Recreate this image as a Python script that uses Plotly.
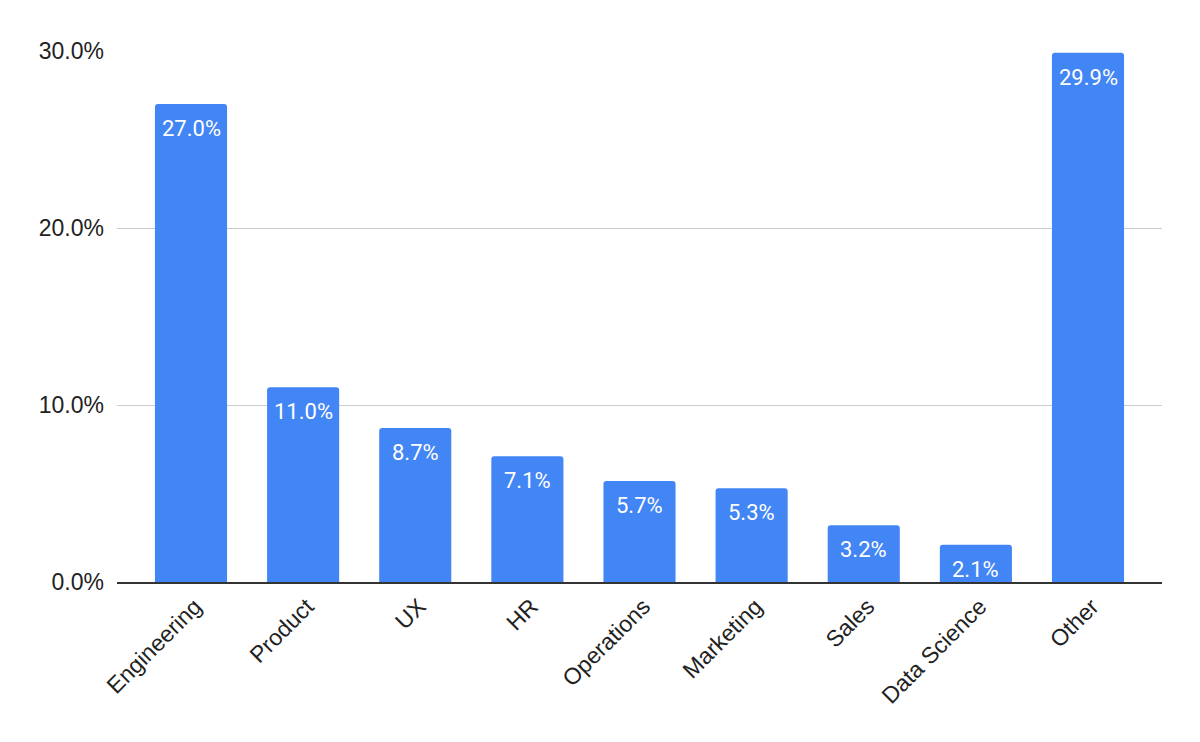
import plotly.graph_objects as go

categories = ["Engineering", "Product", "UX", "HR", "Operations",
              "Marketing", "Sales", "Data Science", "Other"]
shares = [27.0, 11.0, 8.7, 7.1, 5.7, 5.3, 3.2, 2.1, 29.9]
y_ticks = [0, 10, 20, 30]
y_tick_text = ["0.0%", "10.0%", "20.0%", "30.0%"]

axis_font = "Liberation Sans, Arial, sans-serif"
label_font = "Roboto, Arial, sans-serif"

fig = go.Figure()
fig.add_trace(
    go.Bar(
        x=categories,
        y=shares,
        marker=dict(color="#4285f4", cornerradius=3, line=dict(width=0)),
        width=0.643,
        hoverinfo="x+y",
    )
)
# value labels sit a bit lower inside the bar than plotly's own inside text
for cat, val in zip(categories, shares):
    fig.add_annotation(
        x=cat,
        y=val,
        text=f"{val:.1f}%",
        showarrow=False,
        yanchor="top",
        yshift=-10,
        font=dict(color="white", size=22, family=label_font),
    )

# page has an 8px body margin, so the margins below are shifted by it
fig.update_layout(
    width=1200,
    height=742,
    margin=dict(l=109, r=46, t=43, b=168),
    plot_bgcolor="white",
    paper_bgcolor="white",
    showlegend=False,
    font=dict(family=axis_font, size=23, color="#222222"),
)
fig.update_xaxes(
    range=[-0.66, len(categories) - 0.34],
    tickangle=-45,
    showline=True,
    linecolor="#333333",
    linewidth=2,
    ticks="",
    ticklabelshift=4,
    tickfont=dict(size=23, color="#222222"),
)
fig.update_yaxes(
    range=[0, 30],
    tickvals=y_ticks,
    ticktext=y_tick_text,
    showgrid=True,
    gridcolor="#cccccc",
    gridwidth=1,
    zeroline=False,
    ticks="",
    ticklabelstandoff=12,
    tickfont=dict(size=23, color="#222222"),
)
fig.write_html("out.html")
